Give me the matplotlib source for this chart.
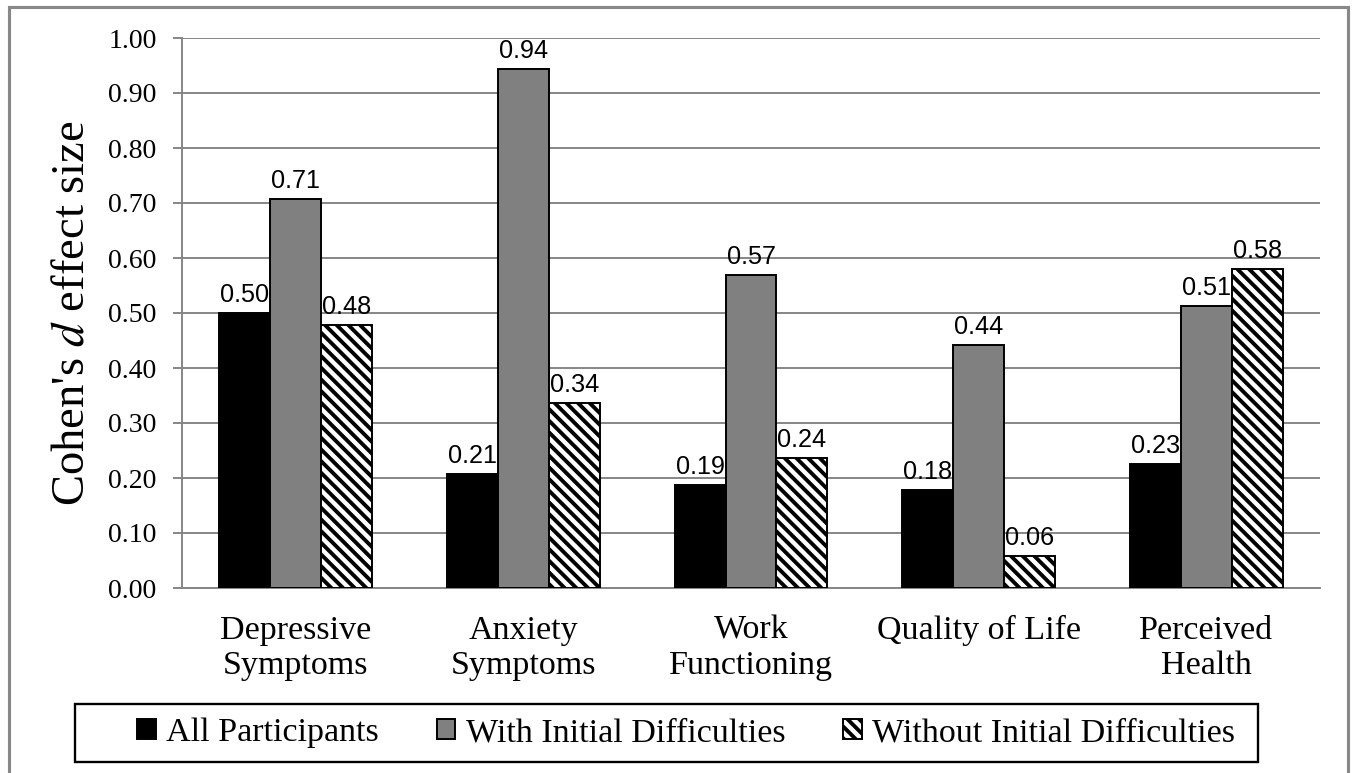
import numpy as np
import matplotlib
matplotlib.use("Agg")
import matplotlib.pyplot as plt
from matplotlib.patches import Rectangle

# data
categories = ["Depressive\nSymptoms", "Anxiety\nSymptoms", "Work\nFunctioning",
              "Quality of Life", "Perceived\nHealth"]
all_participants = [0.50, 0.207, 0.187, 0.178, 0.226]
with_difficulties = [0.707, 0.944, 0.569, 0.442, 0.513]
without_difficulties = [0.478, 0.336, 0.236, 0.058, 0.580]
series_names = ["All Participants", "With Initial Difficulties", "Without Initial Difficulties"]
yticks = [0.0, 0.1, 0.2, 0.3, 0.4, 0.5, 0.6, 0.7, 0.8, 0.9, 1.0]

plt.rcParams['font.family'] = ['Liberation Serif', 'DejaVu Serif']
plt.rcParams['mathtext.fontset'] = 'stix'
plt.rcParams['hatch.linewidth'] = 2.0

DPI = 140
fig = plt.figure(figsize=(1354 / DPI, 773 / DPI), dpi=DPI)
ax = fig.add_axes([182 / 1354, 1 - 588 / 773, (1320 - 182) / 1354, (588 - 38) / 773])

grid_c = '#868686'
x = np.arange(len(categories))
w = 0.224
styles = [dict(color='black', edgecolor='black'),
          dict(color='#808080', edgecolor='black'),
          dict(color='white', edgecolor='black', hatch='\\\\\\\\')]
data = [all_participants, with_difficulties, without_difficulties]

for i, (vals, st, name) in enumerate(zip(data, styles, series_names)):
    bars = ax.bar(x + (i - 1) * w, vals, w, linewidth=1.0, label=name, zorder=3, **st)
    for b, v in zip(bars, vals):
        ax.annotate(f"{v:.2f}", (b.get_x() + b.get_width() / 2, v),
                    xytext=(0, 3), textcoords='offset points', ha='center', va='bottom',
                    fontsize=13, family='Liberation Sans', zorder=4)

ax.set_xlim(-0.5, len(categories) - 0.5)
ax.set_ylim(0, 1.0)
ax.set_yticks(yticks)
ax.set_yticklabels([f"{t:.2f}" for t in yticks], fontsize=14.3)
ax.set_xticks(x)
ax.set_xticklabels(categories, fontsize=17.5, linespacing=1.2)
ax.tick_params(axis='x', length=0, pad=14)
ax.tick_params(axis='y', length=4.6, width=1.0, color=grid_c, pad=8.5)
ax.yaxis.grid(True, color=grid_c, linewidth=1.0, zorder=0)
ax.set_axisbelow(True)
for s in ['top', 'right']:
    ax.spines[s].set_visible(False)
for s in ['left', 'bottom']:
    ax.spines[s].set_color(grid_c)
    ax.spines[s].set_linewidth(1.0)

ax.set_ylabel("Cohen's $\\mathit{d}$ effect size", fontsize=24)
ax.yaxis.set_label_coords(-0.078, 0.5)

leg = fig.legend(loc='center', bbox_to_anchor=(686 / 1354, 1 - 733 / 773),
                 ncol=3, fontsize=17.5, frameon=False,
                 handlelength=0.55, handleheight=0.55, handletextpad=0.3,
                 columnspacing=1.7, borderpad=0)

# legend box and outer chart frame
fig.patches.append(Rectangle((75 / 1354, 1 - 762 / 773), 1183 / 1354, 58 / 773,
                             transform=fig.transFigure, fill=False,
                             edgecolor='black', linewidth=1.2))
fig.patches.append(Rectangle((9 / 1354, -0.02), (1348 - 9) / 1354, 1.02 - 7 / 773,
                             transform=fig.transFigure, fill=False,
                             edgecolor='#888888', linewidth=1.6))

fig.savefig("out.png", dpi=DPI)
